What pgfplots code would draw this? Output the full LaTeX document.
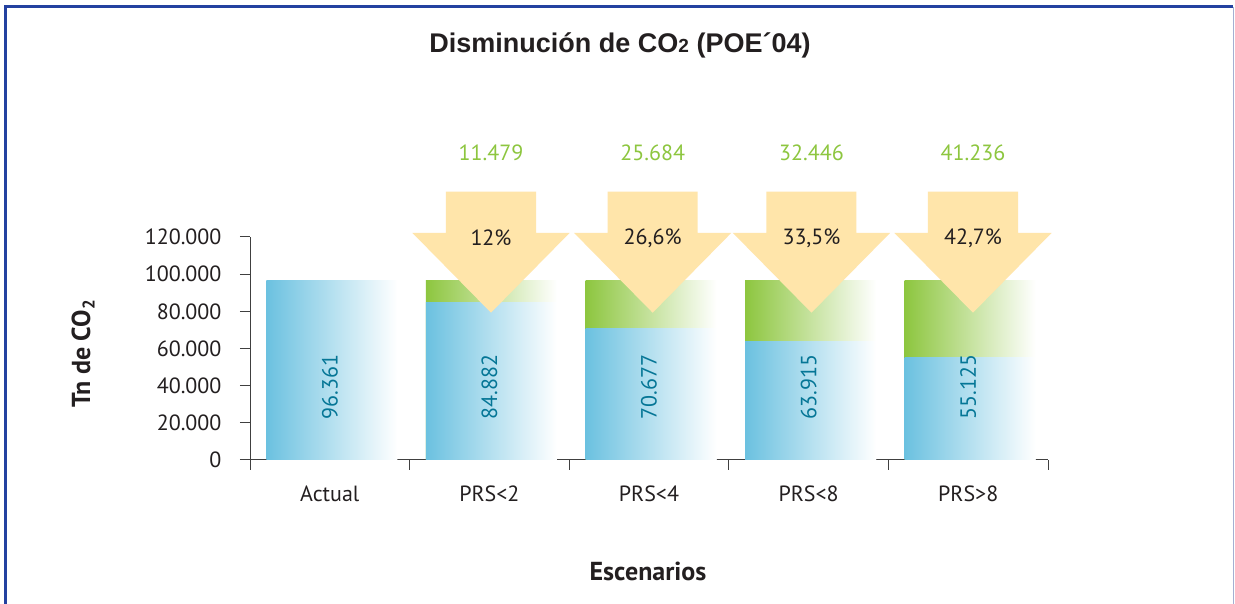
\documentclass[border=0pt]{standalone}
\usepackage{pgfplots}
\pgfplotsset{compat=1.18}
\usepackage{fontspec}
\setmainfont{PT Sans}
\newfontfamily\titlefont{Liberation Sans}
\definecolor{blueL}{RGB}{107,193,224}
\definecolor{greenL}{RGB}{141,198,63}
\definecolor{arrowc}{RGB}{255,229,170}
\definecolor{blueT}{RGB}{5,118,150}
\definecolor{greenT}{RGB}{141,198,63}
\definecolor{txt}{RGB}{35,31,32}
\definecolor{framec}{RGB}{35,65,160}
\definecolor{framer}{RGB}{165,175,210}
\tikzset{lab/.style={font=\fontsize{22}{24}\selectfont}}
\pgfplotsset{
  greenbar/.style={ybar, bar shift=2pt, bar width=131pt, draw=none, left color=greenL, right color=white},
  bluebar/.style={ybar, bar shift=2pt, bar width=131pt, draw=none, left color=blueL, right color=white},
}

\begin{document}
\begin{tikzpicture}
\useasboundingbox (0pt,0pt) rectangle (1235pt,604pt);
\fill[white] (0pt,0pt) rectangle (1235pt,604pt);
\begin{axis}[
  at={(250pt,144pt)}, anchor=south west,
  scale only axis, width=798pt, height=223pt,
  xmin=-0.5, xmax=4.5, ymin=0, ymax=120000,
  axis lines=left,
  axis line style={-, black!75, line width=1pt},
  clip=false,
  xtick={-0.5,0.5,1.5,2.5,3.5,4.5},
  x tick label as interval,
  xticklabels={Actual,PRS<2,PRS<4,PRS<8,PRS>8},
  ytick={0,20000,40000,60000,80000,100000,120000},
  tick style={black!75, line width=1pt},
  major tick length=10pt,
  tick align=outside,
  scaled y ticks=false,
  /pgf/number format/assume math mode=true,
  y tick label style={/pgf/number format/fixed, /pgf/number format/1000 sep={.}, xshift=-15pt},
  x tick label style={yshift=-12pt},
  tick label style={font=\fontsize{22}{24}\selectfont, text=txt},
]
% total = reduced emissions + reduction (green part visible above blue)
\addplot[greenbar] coordinates {(1,96361)};
\addplot[greenbar] coordinates {(2,96361)};
\addplot[greenbar] coordinates {(3,96361)};
\addplot[greenbar] coordinates {(4,96361)};
\addplot[bluebar] coordinates {(0,96361)};
\addplot[bluebar] coordinates {(1,84882)};
\addplot[bluebar] coordinates {(2,70677)};
\addplot[bluebar] coordinates {(3,63915)};
\addplot[bluebar] coordinates {(4,55125)};

\fill[arrowc] (axis cs:0.728,144480) -- (axis cs:1.292,144480) -- (axis cs:1.292,122150) -- (axis cs:1.502,122150) -- (axis cs:1.01,79260) -- (axis cs:0.518,122150) -- (axis cs:0.728,122150) -- cycle;
\fill[arrowc] (axis cs:1.741,144480) -- (axis cs:2.305,144480) -- (axis cs:2.305,122150) -- (axis cs:2.515,122150) -- (axis cs:2.023,79260) -- (axis cs:1.531,122150) -- (axis cs:1.741,122150) -- cycle;
\fill[arrowc] (axis cs:2.736,144480) -- (axis cs:3.300,144480) -- (axis cs:3.300,122150) -- (axis cs:3.510,122150) -- (axis cs:3.018,79260) -- (axis cs:2.526,122150) -- (axis cs:2.736,122150) -- cycle;
\fill[arrowc] (axis cs:3.748,144480) -- (axis cs:4.312,144480) -- (axis cs:4.312,122150) -- (axis cs:4.522,122150) -- (axis cs:4.03,79260) -- (axis cs:3.538,122150) -- (axis cs:3.748,122150) -- cycle;

\node[lab, rotate=90, text=blueT] at (axis cs:0,39300) {96.361};
\node[lab, rotate=90, text=blueT] at (axis cs:1,39300) {84.882};
\node[lab, rotate=90, text=blueT] at (axis cs:2,39300) {70.677};
\node[lab, rotate=90, text=blueT] at (axis cs:3,39300) {63.915};
\node[lab, rotate=90, text=blueT] at (axis cs:4,39300) {55.125};
\node[lab, text=txt] at (axis cs:1.01,119500) {12\%};
\node[lab, text=txt] at (axis cs:2.023,119500) {26,6\%};
\node[lab, text=txt] at (axis cs:3.018,119500) {33,5\%};
\node[lab, text=txt] at (axis cs:4.03,119500) {42,7\%};
\node[lab, text=greenT] at (axis cs:1.01,165200) {11.479};
\node[lab, text=greenT] at (axis cs:2.023,165200) {25.684};
\node[lab, text=greenT] at (axis cs:3.018,165200) {32.446};
\node[lab, text=greenT] at (axis cs:4.03,165200) {41.236};
\end{axis}
\node[text=txt, font=\titlefont\bfseries\fontsize{27}{29}\selectfont] at (620pt,559pt) {Disminución de CO{\fontsize{19}{19}\selectfont 2} (POE´04)};
\node[text=txt, rotate=90, font=\bfseries\fontsize{26}{28}\selectfont] at (83pt,250pt) {Tn de CO\raisebox{-0.35ex}{\fontsize{17}{17}\selectfont 2}};
\node[text=txt, font=\bfseries\fontsize{26}{28}\selectfont] at (648pt,33pt) {Escenarios};
\draw[framec, line width=3pt] (5.5pt,0pt) -- (5.5pt,597.8pt) -- (1233pt,597.8pt);
\draw[framer, line width=1pt] (1233.5pt,597pt) -- (1233.5pt,0pt);
\end{tikzpicture}
\end{document}
